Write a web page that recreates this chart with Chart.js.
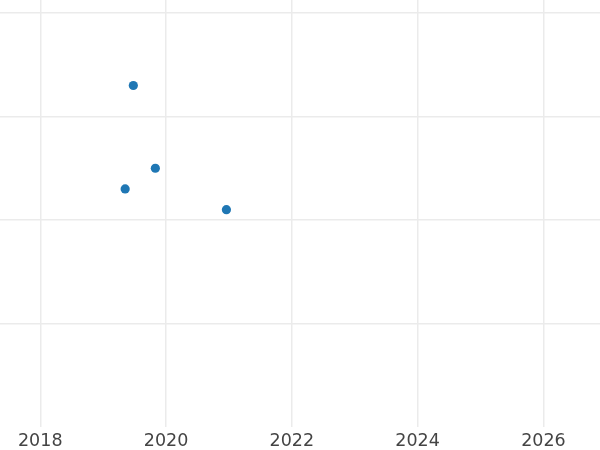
<!DOCTYPE html>
<html>
<head>
<meta charset="utf-8">
<script src="https://cdn.jsdelivr.net/npm/chart.js@4"></script>
<style>
  html, body { margin: 0; padding: 0; background: #fff; }
  #wrap { width: 600px; height: 450px; }
</style>
</head>
<body>
<div id="wrap"><canvas id="chart"></canvas></div>
<script>
// values
const years = [2019.48, 2019.83, 2019.35, 2020.96];
const values = [3.30, 2.50, 2.30, 2.10];
const xTicks = [2018, 2020, 2022, 2024, 2026];
const yTicks = [1, 2, 3, 4];

const points = years.map((x, i) => ({ x: x, y: values[i] }));

const ctx = document.getElementById("chart");
const chart = new Chart(ctx.getContext("2d"), {
  type: "scatter",
  data: {
    datasets: [
      {
        label: "data",
        data: points,
        backgroundColor: "#1f77b4",
        borderColor: "#1f77b4",
        pointRadius: 4.6,
        pointHoverRadius: 4.6,
        borderWidth: 0,
      },
    ],
  },
  options: {
    responsive: true,
    maintainAspectRatio: false,
    animation: false,
    layout: { padding: 0, autoPadding: false },
    plugins: { legend: { display: false }, tooltip: { enabled: false } },
    scales: {
      x: {
        type: "linear",
        min: 2017.36,
        max: 2026.9,
        afterBuildTicks: (axis) => {
          axis.ticks = xTicks.map((v) => ({ value: v }));
        },
        afterFit: (axis) => {
          axis.height = 23;
        },
        border: { display: false },
        grid: { color: "#ebebeb", lineWidth: 1.5, drawTicks: false },
        ticks: {
          padding: 4,
          color: "#444444",
          font: { family: "DejaVu Sans", size: 17.5 },
          callback: (v) => String(v),
        },
      },
      y: {
        min: 0,
        max: 4.126,
        afterBuildTicks: (axis) => {
          axis.ticks = yTicks.map((v) => ({ value: v }));
        },
        border: { display: false },
        grid: { color: "#ebebeb", lineWidth: 1.5, drawTicks: false },
        ticks: { display: false },
        afterFit: (axis) => {
          axis.width = 0;
        },
      },
    },
  },
});
</script>
</body>
</html>
